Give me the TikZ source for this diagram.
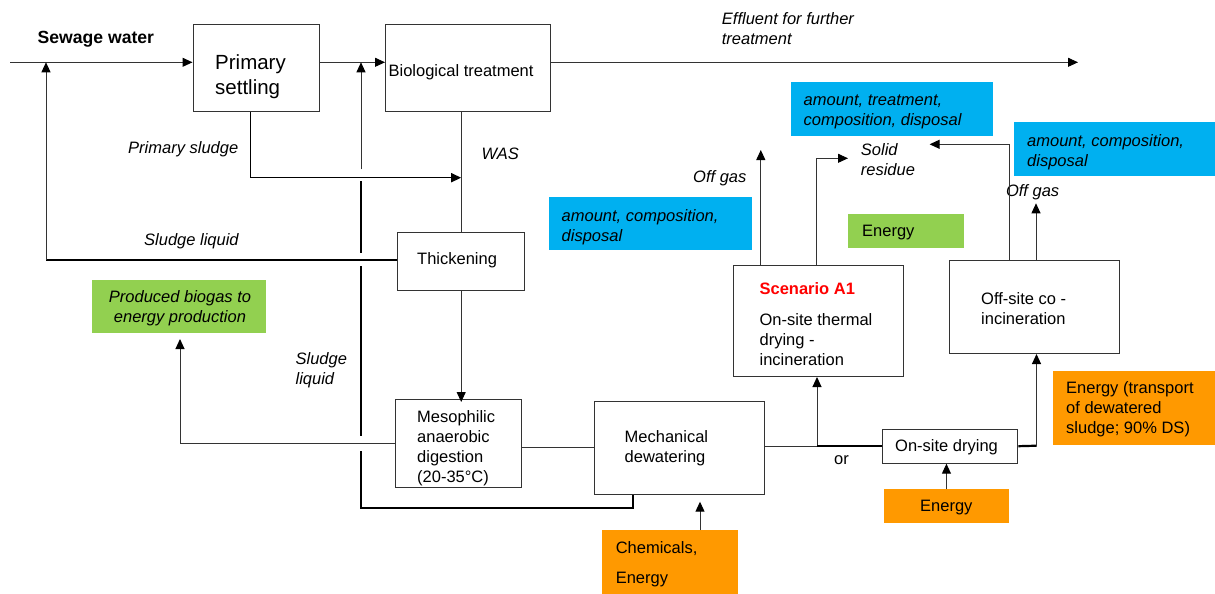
\documentclass[tikz,border=0pt]{standalone}
\usepackage{fontspec}
\setmainfont{Liberation Sans}
\usetikzlibrary{arrows.meta}
\definecolor{cblue}{HTML}{00B0F0}
\definecolor{cgreen}{HTML}{92D050}
\definecolor{corange}{HTML}{FF9900}
\definecolor{cline}{HTML}{333333}
\definecolor{cred}{HTML}{FF0000}
\begin{document}
\begin{tikzpicture}[x=1pt,y=-1pt,
  box/.style={draw=cline, line width=1pt, inner sep=0, anchor=north west},
  fbox/.style={inner sep=0, anchor=north west},
  txt/.style={inner sep=0, anchor=west, align=left, yshift=-1.5pt, font=\fontsize{16.5}{20}\selectfont},
  itx/.style={inner sep=0, anchor=west, align=left, yshift=-1.5pt, font=\fontsize{16.5}{20}\selectfont\itshape},
  thinl/.style={draw=cline, line width=1pt},
  midl/.style={draw=black, line width=1.5pt},
  thickl/.style={draw=black, line width=2.2pt},
  arr/.style={-{Triangle[length=10pt,width=9pt,color=black]}},
]
\useasboundingbox (0,0) rectangle (1215,594);

% filled boxes
\node[fbox, fill=cgreen, minimum width=174.2, minimum height=53.4] (biogas) at (91.8,279.3) {};
\node[fbox, fill=cblue, minimum width=202, minimum height=53.7] (blueA) at (791,82) {};
\node[fbox, fill=cblue, minimum width=201, minimum height=53.7] (blueB) at (1014,122) {};
\node[fbox, fill=cblue, minimum width=202.8, minimum height=52.7] (blueC) at (549,197) {};
\node[fbox, fill=cgreen, minimum width=116.2, minimum height=33.7] (genergy) at (847.8,214) {};
\node[fbox, fill=corange, minimum width=124.5, minimum height=33.7] (oenergy) at (884,489) {};
\node[fbox, fill=corange, minimum width=135.5, minimum height=64] (chem) at (602,530) {};
\node[fbox, fill=corange, minimum width=162, minimum height=73.7] (otrans) at (1053,371) {};

% process boxes
\node[box, minimum width=126.3, minimum height=86.7] (ps) at (192.5,24.3) {};
\node[box, minimum width=165, minimum height=86.7] (bio) at (385,24.3) {};
\node[box, minimum width=127, minimum height=57.4] (thk) at (397.2,232.3) {};
\node[box, minimum width=125.5, minimum height=88] (meso) at (395.3,399) {};
\node[box, minimum width=169.5, minimum height=93] (mech) at (594,400.7) {};
\node[box, minimum width=170, minimum height=110.7] (scen) at (732.7,265.3) {};
\node[box, minimum width=135.7, minimum height=34] (osd) at (881.7,428.7) {};
\node[box, minimum width=170, minimum height=92.7] (off) at (949.4,260.3) {};

% texts
\node[inner sep=0, anchor=west, yshift=-1.5pt, font=\fontsize{17.6}{20}\selectfont\bfseries] (sew) at (37.5,37.7) {Sewage water};
\node[inner sep=0, anchor=west, align=left, yshift=-1pt, font=\fontsize{20.5}{24.4}\selectfont] (pstxt) at (215,75.5) {Primary\\settling};
\node[txt] (biotxt) at (388.4,70.7) {Biological treatment};
\node[itx] (eff) at (721.7,27.5) {Effluent for further\\treatment};
\node[itx] (pslab) at (128,147.3) {Primary sludge};
\node[itx] (waslab) at (481.4,152.3) {WAS};
\node[itx] (slq1) at (144,239.3) {Sludge liquid};
\node[txt] (thktxt) at (417,259) {Thickening};
\node[itx, anchor=center, align=center] (biogtxt) at (180,307) {Produced biogas to\\energy production};
\node[itx] (slq2) at (295.4,368.5) {Sludge\\liquid};
\node[txt] (mesotxt) at (417,447) {Mesophilic\\anaerobic\\digestion\\(20-35°C)};
\node[txt] (mechtxt) at (624.5,447) {Mechanical\\dewatering};
\node[inner sep=0, anchor=west, yshift=-1.5pt, font=\fontsize{16.5}{20}\selectfont\bfseries, text=cred] (scentitle) at (759.4,287) {Scenario A1};
\node[txt] (scentxt) at (759.4,338) {On-site thermal\\drying -\\incineration};
\node[txt] (offtxt) at (981,307) {Off-site co -\\incineration};
\node[txt] (osdtxt) at (895,445.7) {On-site drying};
\node[txt] (ortxt) at (834,459) {or};
\node[txt] (oentxt) at (920,506) {Energy};
\node[inner sep=0, anchor=west, align=left, yshift=-1.5pt, font=\fontsize{16.5}{30}\selectfont] (chemtxt) at (615.6,563) {Chemicals,\\Energy};
\node[txt] (otranstxt) at (1066,408) {Energy (transport\\of dewatered\\sludge; 90\% DS)};
\node[itx] (offgasA) at (693,176.7) {Off gas};
\node[itx] (solid) at (860.7,158) {Solid\\residue};
\node[itx] (offgasB) at (1005.8,190.7) {Off gas};
\node[txt] (gentxt) at (862,231) {Energy};
\node[itx] (blueAtxt) at (803.5,110.7) {amount, treatment,\\composition, disposal};
\node[itx] (blueBtxt) at (1027,150.5) {amount, composition,\\disposal};
\node[itx] (blueCtxt) at (561.5,225.5) {amount, composition,\\disposal};

% coordinates
\coordinate (in) at (10,62.3);
\coordinate (effend) at (1078,62.3);
\coordinate (sl) at (46,259.7);
\coordinate (psc) at (250.7,177.7);
\coordinate (r0) at (361,169.3);
\coordinate (r1) at (361,181);
\coordinate (r2) at (361,253);
\coordinate (r3) at (361,266);
\coordinate (r4) at (361,436);
\coordinate (r5) at (361,451);
\coordinate (r6) at (361,507.7);
\coordinate (rc) at (632.6,507.7);
\coordinate (bgtip) at (180,339);
\coordinate (j) at (817,446.3);
\coordinate (k) at (1036.5,445.7);
\coordinate (chtip) at (700,501.7);
\coordinate (og1) at (760.8,150);
\coordinate (sr1) at (816.8,158.3);
\coordinate (sr2) at (848,158.3);
\coordinate (sr3) at (1009,144.3);
\coordinate (sr4) at (929.6,144.3);
\coordinate (og2) at (1036,203.3);

% connectors
\draw[thinl,arr] (in) -- (ps.west |- in);
\draw[thinl,arr] (ps.east |- in) -- (bio.west |- in);
\draw[thinl,arr] (bio.east |- in) -- (effend);
\draw[thickl] (thk.west |- sl) -- (sl);
\draw[thinl,arr] (sl) -- (sl |- in);
\draw[midl,arr] (psc |- ps.south) -- (psc) -- (psc -| thk.north);
\draw[thinl] (bio.south -| thk.north) -- (thk.north);
\draw[thinl,arr] (thk.south) -- ([yshift=-3pt]thk.south |- meso.north);
\draw[thinl,arr] (r0) -- (r0 |- in);
\draw[thickl] (r1) -- (r2);
\draw[thickl] (r3) -- (r4);
\draw[thickl] (r5) -- (r6) -- (rc) -- (rc |- mech.south);
\draw[thinl,arr] (meso.west) -| (bgtip);
\draw[thinl] (meso.east |- mech.west) -- (mech.west);
\draw[thinl] (mech.east |- j) -- (j);
\draw[thinl,arr] (j) -- (j |- scen.south);
\draw[thickl] (j) -- (osd.west |- j);
\draw[thickl] (osd.east) -- (k);
\draw[thinl,arr] (k) -- (k |- off.south);
\draw[thinl,arr] (oenergy.north) -- (oenergy.north |- osd.south);
\draw[thinl,arr] (chtip |- chem.north) -- (chtip);
\draw[thinl,arr] (og1 |- scen.north) -- (og1);
\draw[thinl,arr] (sr1 |- scen.north) -- (sr1) -- (sr2);
\draw[thinl,arr] (sr3 |- off.north) -- (sr3) -- (sr4);
\draw[thinl,arr] (og2 |- off.north) -- (og2);
\end{tikzpicture}
\end{document}
